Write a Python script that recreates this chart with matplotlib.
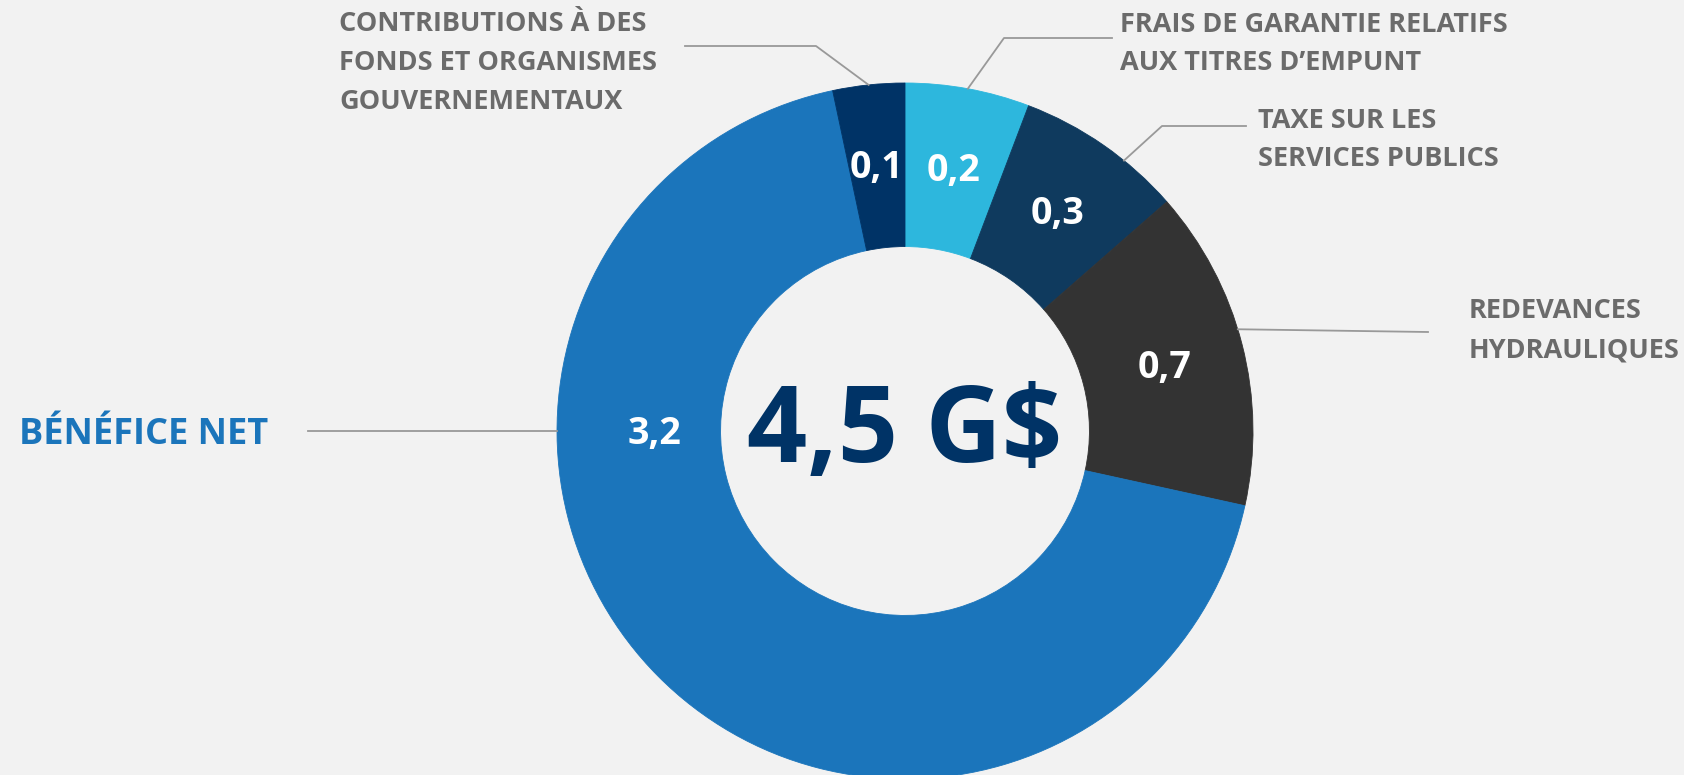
import numpy as np
import matplotlib.pyplot as plt

# donnees (G$)
categories = ["FRAIS DE GARANTIE RELATIFS\nAUX TITRES D\u2019EMPUNT",
              "TAXE SUR LES\nSERVICES PUBLICS",
              "REDEVANCES\nHYDRAULIQUES",
              "B\u00c9N\u00c9FICE NET",
              "CONTRIBUTIONS \u00c0 DES\nFONDS ET ORGANISMES\nGOUVERNEMENTAUX"]
values = [0.26, 0.35, 0.67, 3.07, 0.15]
value_labels = ["0,2", "0,3", "0,7", "3,2", "0,1"]
total_label = "4,5 G$"

colors = ["#2db7dd", "#0f3a5e", "#333333", "#1b75bb", "#003366"]
plt.rcParams["font.family"] = ["Open Sans", "DejaVu Sans"]

W, H = 1684, 775
fig = plt.figure(figsize=(W / 100, H / 100), dpi=100)
fig.patch.set_facecolor("#f2f2f2")

# donut centre (905, 431) px, rayon 348 px
cx, cy, R = 905, 431, 348
ax = fig.add_axes([(cx - R) / W, (H - cy - R) / H, 2 * R / W, 2 * R / H])

wedges, _ = ax.pie(values, colors=colors, startangle=90, counterclock=False,
                   radius=1, wedgeprops=dict(width=0.47, linewidth=0.6))
for w in wedges:
    w.set_clip_on(False)
    w.set_edgecolor(w.get_facecolor())
ax.set_xlim(-1, 1)
ax.set_ylim(-1, 1)
ax.axis("off")

# angle de chaque etiquette
mids = [np.deg2rad((w.theta1 + w.theta2) / 2) for w in wedges]
mids[3] = np.pi  # benefice net: a gauche

for a, lab in zip(mids, value_labels):
    r = 0.77 if lab != "3,2" else 0.72
    ax.text(r * np.cos(a), r * np.sin(a) - 0.01, lab, ha="center", va="center",
            color="white", fontsize=27, fontweight="bold")

ax.text(0, -0.01, total_label, ha="center", va="center", color="#003366",
        fontsize=76, fontweight="bold")

# lignes de rappel : (angle depart, coude px, fin px, texte px)
def px(x, y):
    return (x - cx) / R, (cy - y) / R

leaders = [
    (mids[0], (1004, 38), (1112, 38), (1120, 44)),
    (np.deg2rad(90 - 39), (1162, 126), (1246, 126), (1258, 140)),
    (np.deg2rad(90 - 73), None, (1428, 332), (1469, 331)),
    (np.pi, None, (308, 431), None),
    (mids[4], (816, 46), (685, 46), (339, 63)),
]
grey = "#6b6b6b"
for i, (a, elbow, end, tpos) in enumerate(leaders):
    pts = [(np.cos(a), np.sin(a))]
    if elbow is not None:
        pts.append(px(*elbow))
    pts.append(px(*end))
    xs, ys = zip(*pts)
    ax.plot(xs, ys, color="#999999", lw=1.3, clip_on=False)
    if tpos is not None:
        tx, ty = px(*tpos)
        ax.text(tx, ty, categories[i], ha="left", va="center", color=grey,
                fontsize=19.5, fontweight="bold", linespacing=1.65)

bx, by = px(19, 435)
ax.text(bx, by, categories[3], ha="left", va="center", color="#1b75bb",
        fontsize=26, fontweight="bold")

fig.savefig("out.png", dpi=100, facecolor=fig.get_facecolor())
